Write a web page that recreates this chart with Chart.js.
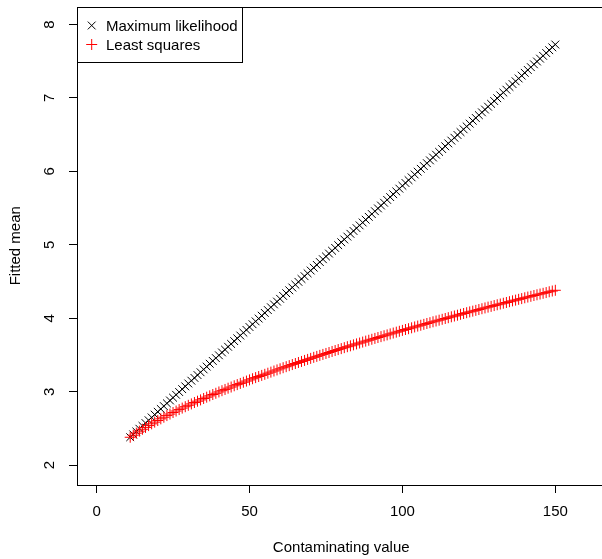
<!DOCTYPE html>
<html><head><meta charset="utf-8">
<script src="https://cdn.jsdelivr.net/npm/chart.js@4/dist/chart.umd.min.js"></script>
<style>html,body{margin:0;padding:0;background:#fff;overflow:hidden}
#wrap{width:602px;height:559px;overflow:hidden;position:relative;background:#fff}
canvas{display:block}</style></head><body>
<div id="wrap"><canvas id="c" width="612" height="559"></canvas></div>
<script>
const contaminatingValues = [
 11,12,13,14,15,16,17,18,19,20,21,22,23,24,25,26,27,28,29,30,
 31,32,33,34,35,36,37,38,39,40,41,42,43,44,45,46,47,48,49,50,
 51,52,53,54,55,56,57,58,59,60,61,62,63,64,65,66,67,68,69,70,
 71,72,73,74,75,76,77,78,79,80,81,82,83,84,85,86,87,88,89,90,
 91,92,93,94,95,96,97,98,99,100,101,102,103,104,105,106,107,108,109,110,
 111,112,113,114,115,116,117,118,119,120,121,122,123,124,125,126,127,128,129,130,
 131,132,133,134,135,136,137,138,139,140,141,142,143,144,145,146,147,148,149,150];
const maxLikelihood = [
 2.381,2.419,2.458,2.496,2.535,2.573,2.612,2.650,2.688,2.727,
 2.765,2.804,2.842,2.881,2.919,2.958,2.996,3.035,3.073,3.112,
 3.150,3.188,3.227,3.265,3.304,3.342,3.381,3.419,3.458,3.496,
 3.535,3.573,3.612,3.650,3.689,3.727,3.765,3.804,3.842,3.881,
 3.919,3.958,3.996,4.035,4.073,4.112,4.150,4.189,4.227,4.265,
 4.304,4.342,4.381,4.419,4.458,4.496,4.535,4.573,4.612,4.650,
 4.689,4.727,4.766,4.804,4.842,4.881,4.919,4.958,4.996,5.035,
 5.073,5.112,5.150,5.189,5.227,5.265,5.304,5.342,5.381,5.419,
 5.458,5.496,5.535,5.573,5.612,5.650,5.689,5.727,5.765,5.804,
 5.842,5.881,5.919,5.958,5.996,6.035,6.073,6.112,6.150,6.189,
 6.227,6.265,6.304,6.342,6.381,6.419,6.458,6.496,6.535,6.573,
 6.612,6.650,6.689,6.727,6.766,6.804,6.842,6.881,6.919,6.958,
 6.996,7.035,7.073,7.112,7.150,7.189,7.227,7.265,7.304,7.342,
 7.381,7.419,7.458,7.496,7.535,7.573,7.612,7.650,7.689,7.727];
const leastSquares = [
 2.380,2.408,2.436,2.463,2.489,2.514,2.539,2.563,2.586,2.608,
 2.631,2.653,2.675,2.696,2.717,2.737,2.757,2.777,2.796,2.815,
 2.834,2.853,2.871,2.889,2.908,2.926,2.944,2.962,2.979,2.997,
 3.014,3.031,3.048,3.064,3.081,3.097,3.113,3.129,3.145,3.161,
 3.177,3.192,3.207,3.222,3.237,3.252,3.267,3.282,3.297,3.312,
 3.327,3.341,3.355,3.370,3.384,3.398,3.412,3.426,3.440,3.454,
 3.468,3.481,3.495,3.508,3.521,3.534,3.548,3.561,3.574,3.587,
 3.600,3.613,3.625,3.638,3.651,3.663,3.676,3.689,3.701,3.714,
 3.726,3.738,3.750,3.762,3.774,3.787,3.799,3.811,3.823,3.835,
 3.847,3.858,3.870,3.882,3.894,3.905,3.917,3.929,3.940,3.952,
 3.963,3.974,3.986,3.997,4.008,4.020,4.031,4.042,4.054,4.065,
 4.076,4.087,4.097,4.108,4.119,4.130,4.141,4.152,4.162,4.173,
 4.184,4.194,4.205,4.215,4.226,4.237,4.247,4.258,4.268,4.279,
 4.289,4.299,4.310,4.320,4.330,4.340,4.350,4.361,4.371,4.381];
const xTicks = [0, 50, 100, 150];
const yTicks = [2, 3, 4, 5, 6, 7, 8];
const seriesNames = ["Maximum likelihood", "Least squares"];
const xTitle = "Contaminating value";
const yTitle = "Fitted mean";

const FAMILY = '"Liberation Sans", Arial, Helvetica, sans-serif';
Chart.defaults.font.family = FAMILY;
Chart.defaults.font.size = 15;
Chart.defaults.color = '#000';

const boxAndLegend = {
  id: 'boxAndLegend',
  afterDatasetsDraw(chart) {
    const ctx = chart.ctx, a = chart.chartArea;
    ctx.save();
    ctx.strokeStyle = '#000';
    ctx.lineWidth = 1;
    const L = Math.round(a.left) + 0.5, T = Math.round(a.top) + 0.5;
    ctx.strokeRect(L, T, Math.round(a.right) - Math.round(a.left), Math.round(a.bottom) - Math.round(a.top));
    // legend
    ctx.font = '15px ' + FAMILY;
    const tw = Math.max(...seriesNames.map(n => ctx.measureText(n).width));
    const w = Math.round(28.5 + tw + 5), h = 55;
    ctx.fillStyle = '#fff';
    ctx.fillRect(L, T, w, h);
    ctx.strokeRect(L, T, w, h);
    const mx = L + 14.2;
    let cy = T + 18;
    ctx.strokeStyle = '#000';
    ctx.beginPath();
    ctx.moveTo(mx - 3.9, cy - 3.9); ctx.lineTo(mx + 3.9, cy + 3.9);
    ctx.moveTo(mx + 3.9, cy - 3.9); ctx.lineTo(mx - 3.9, cy + 3.9);
    ctx.stroke();
    cy = T + 37;
    ctx.strokeStyle = '#ff0000';
    ctx.beginPath();
    ctx.moveTo(mx - 5.5, cy); ctx.lineTo(mx + 5.5, cy);
    ctx.moveTo(mx, cy - 5.5); ctx.lineTo(mx, cy + 5.5);
    ctx.stroke();
    ctx.fillStyle = '#000';
    ctx.textBaseline = 'middle';
    ctx.textAlign = 'left';
    ctx.fillText(seriesNames[0], L + 28.5, T + 19);
    ctx.fillText(seriesNames[1], L + 28.5, T + 38);
    ctx.restore();
  }
};

function zeroPad(s) { s.paddingTop = 0; s.paddingBottom = 0; s.paddingLeft = 0; s.paddingRight = 0; }

new Chart(document.getElementById('c'), {
  type: 'scatter',
  data: {
    datasets: [
      {
        label: seriesNames[0],
        data: contaminatingValues.map((x, i) => ({x: x, y: maxLikelihood[i]})),
        pointStyle: 'crossRot', pointRadius: 5.5, pointBorderWidth: 1,
        borderColor: '#000000', backgroundColor: '#000000', showLine: false, order: 2
      },
      {
        label: seriesNames[1],
        data: contaminatingValues.map((x, i) => ({x: x, y: leastSquares[i]})),
        pointStyle: 'cross', pointRadius: 5.5, pointBorderWidth: 1,
        borderColor: '#ff0000', backgroundColor: '#ff0000', showLine: false, order: 1
      }
    ]
  },
  options: {
    responsive: false, animation: false, devicePixelRatio: 1,
    layout: {padding: {top: 6, right: 1, left: 0, bottom: 0}},
    plugins: {legend: {display: false}, tooltip: {enabled: false}},
    elements: {point: {hoverRadius: 5.5}},
    scales: {
      x: {
        type: 'linear', min: -6.4, max: 166.4,
        afterBuildTicks: s => { s.ticks = xTicks.map(v => ({value: v})); },
        afterFit: s => { s.height = 74; zeroPad(s); },
        grid: {drawOnChartArea: false, drawTicks: true, tickLength: 8, color: '#000', lineWidth: 1},
        border: {display: false},
        ticks: {padding: 10, maxRotation: 0, minRotation: 0, autoSkip: false, color: '#000', font: {size: 15}},
        title: {display: true, text: xTitle, color: '#000', font: {size: 15}, padding: {top: 0, bottom: 2.6}}
      },
      y: {
        type: 'linear', min: 1.73, max: 8.245,
        afterBuildTicks: s => { s.ticks = yTicks.map(v => ({value: v})); },
        afterFit: s => { s.width = 77; zeroPad(s); },
        grid: {drawOnChartArea: false, drawTicks: true, tickLength: 8, color: '#000', lineWidth: 1},
        border: {display: false},
        ticks: {padding: 15, minRotation: 90, maxRotation: 90, crossAlign: 'center', autoSkip: false, color: '#000', font: {size: 15}},
        title: {display: true, text: yTitle, color: '#000', font: {size: 15}, padding: {top: 6.6, bottom: 0}}
      }
    }
  },
  plugins: [boxAndLegend]
});
</script></body></html>
